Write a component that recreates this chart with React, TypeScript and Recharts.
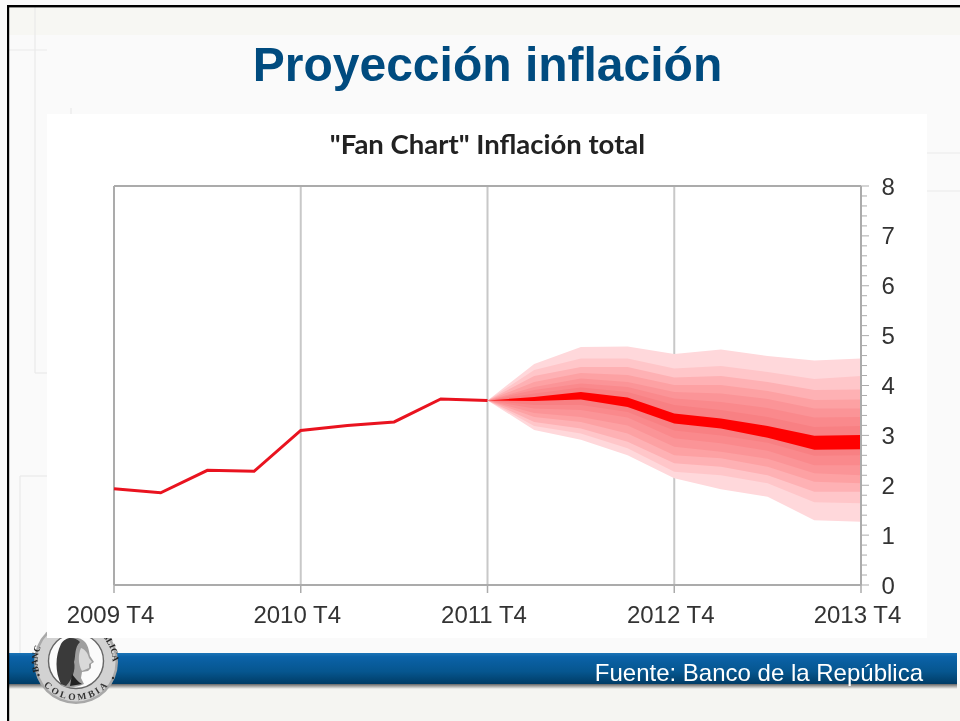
import React from "react";
import { ComposedChart, Area, Line, XAxis, YAxis, CartesianGrid } from "recharts";

const quarterLabels: Record<number, string> = { 0: "2009 T4", 4: "2010 T4", 8: "2011 T4", 12: "2012 T4", 16: "2013 T4" };
const xTicks = [0, 4, 8, 12, 16];
const yTicks = [0, 0.2, 0.4, 0.6, 0.8, 1, 1.2, 1.4, 1.6, 1.8, 2, 2.2, 2.4, 2.6, 2.8, 3, 3.2, 3.4, 3.6, 3.8, 4, 4.2, 4.4, 4.6, 4.8, 5, 5.2, 5.4, 5.6, 5.8, 6, 6.2, 6.4, 6.6, 6.8, 7, 7.2, 7.4, 7.6, 7.8, 8];

const history = [1.93, 1.85, 2.3, 2.28, 3.1, 3.2, 3.27, 3.73, 3.7];

const hi1 = [3.7, 4.43, 4.77, 4.78, 4.63, 4.72, 4.59, 4.5, 4.54];
const hi2 = [3.7, 4.31, 4.54, 4.54, 4.34, 4.39, 4.27, 4.13, 4.19];
const hi3 = [3.7, 4.19, 4.37, 4.37, 4.16, 4.19, 4.07, 3.91, 3.92];
const hi4 = [3.7, 4.07, 4.25, 4.21, 4.01, 4.01, 3.89, 3.71, 3.72];
const hi5 = [3.7, 3.97, 4.14, 4.07, 3.87, 3.84, 3.73, 3.54, 3.54];
const hi6 = [3.7, 3.91, 4.04, 3.97, 3.74, 3.67, 3.55, 3.36, 3.37];
const hi7 = [3.7, 3.84, 3.96, 3.87, 3.61, 3.51, 3.37, 3.17, 3.19];
const hi8 = [3.7, 3.77, 3.87, 3.76, 3.44, 3.34, 3.19, 2.99, 3.01];
const lo8 = [3.7, 3.69, 3.72, 3.57, 3.24, 3.14, 2.95, 2.71, 2.72];
const lo7 = [3.7, 3.61, 3.61, 3.47, 3.1, 3.0, 2.85, 2.59, 2.6];
const lo6 = [3.7, 3.54, 3.51, 3.36, 2.94, 2.84, 2.69, 2.4, 2.4];
const lo5 = [3.7, 3.45, 3.37, 3.2, 2.77, 2.67, 2.53, 2.24, 2.2];
const lo4 = [3.7, 3.37, 3.27, 3.04, 2.6, 2.54, 2.37, 2.07, 2.04];
const lo3 = [3.7, 3.27, 3.14, 2.87, 2.44, 2.37, 2.2, 1.87, 1.87];
const lo2 = [3.7, 3.19, 3.04, 2.74, 2.27, 2.2, 2.04, 1.66, 1.64];
const lo1 = [3.7, 3.11, 2.91, 2.6, 2.14, 1.92, 1.77, 1.3, 1.27];

const highs = [hi1, hi2, hi3, hi4, hi5, hi6, hi7, hi8];
const lows = [lo1, lo2, lo3, lo4, lo5, lo6, lo7, lo8];
const bandColors = ["#FFD8DB", "#FFC6C9", "#FEB1B4", "#FDA1A3", "#FB9497", "#FA898C", "#F88083", "#FF0000"];

const rows = Array.from({ length: 17 }, (_, q) => {
  const row: Record<string, unknown> = { q, history: q < history.length ? history[q] : null };
  highs.forEach((hi, k) => {
    row[`band${k}`] = q >= 8 ? [lows[k][q - 8], hi[q - 8]] : null;
  });
  return row;
});

const SANS = "'Liberation Sans', Arial, sans-serif";

const XTick = (p: any) => (
  <g>
    <line x1={p.x} x2={p.x} y1={p.y} y2={p.y + 8} stroke="#ABABAB" strokeWidth={1.5} />
    <text x={p.x - 3.5} y={p.y + 38} textAnchor="middle" fontSize={24} fontFamily={SANS} fill="#333">
      {quarterLabels[p.payload.value]}
    </text>
  </g>
);

const YTick = (p: any) => {
  const v = p.payload.value;
  const major = Number.isInteger(v);
  return (
    <g>
      <line x1={p.x} x2={p.x + (major ? 8 : 6)} y1={p.y} y2={p.y} stroke="#ABABAB" strokeWidth={1} />
      {major ? (
        <text x={p.x + 20.5} y={p.y + 8.5} fontSize={24} fontFamily={SANS} fill="#333">
          {v}
        </text>
      ) : null}
    </g>
  );
};

const Logo = () => (
  <g>
    <circle cx={76} cy={662} r={42} fill="#A8A8A8" />
    <circle cx={76} cy={662} r={39.5} fill="#D2D2D2" />
    <circle cx={76} cy={661} r={27.5} fill="#FBFBFB" stroke="#666" strokeWidth={1.4} />
    <path id="logoLeft" d="M 44 682 A 37 37 0 0 1 47 637" fill="none" />
    <path id="logoRight" d="M 97 632 A 36 36 0 0 1 112 668" fill="none" />
    <path id="logoBot" d="M 43 672 A 36 36 0 0 0 109 672" fill="none" />
    <text fontSize={9} fontWeight={700} fontFamily="'Liberation Serif', serif" fill="#222">
      <textPath href="#logoLeft" startOffset="50%" textAnchor="middle">BANC</textPath>
    </text>
    <text fontSize={9} fontWeight={700} fontFamily="'Liberation Serif', serif" fill="#222">
      <textPath href="#logoRight" startOffset="50%" textAnchor="middle">BLICA</textPath>
    </text>
    <text fontSize={9.5} fontWeight={700} fontFamily="'Liberation Serif', serif" fill="#333" letterSpacing={1.2}>
      <textPath href="#logoBot" startOffset="50%" textAnchor="middle" dominantBaseline="hanging">COLOMBIA</textPath>
    </text>
    <circle cx={38.5} cy={675} r={1.2} fill="#333" />
    <circle cx={113} cy={678} r={1.2} fill="#333" />
    <path
      d="M 62 644 C 68 636 80 636 85 642 C 89 647 89 652 90 656 L 94 662 L 91 664 L 91 668 L 88 671 L 82 672 L 81 678 L 84 684 C 76 688 68 688 62 686 C 56 672 55 656 62 644 Z"
      fill="#9E9E9E"
    />
    <path
      d="M 61 644 C 66 636 75 637 80 642 C 74 648 76 656 74 662 C 76 670 72 680 66 686 L 61 684 C 55 672 55 656 61 644 Z"
      fill="#3A3A3A"
    />
    <path d="M 81 648 C 86 650 88 654 89 658 L 92 662 L 89 664 L 89 668 L 82 671 C 78 664 78 654 81 648 Z" fill="#D9D9D9" />
    <path d="M 72 674 C 75 678 78 682 82 684 L 70 686 Z" fill="#222" />
  </g>
);

export default function App() {
  return (
    <div style={{ position: "absolute", left: 0, top: 0, width: 960, height: 721, overflow: "hidden", filter: "blur(0.5px)" }}>
      <svg width={960} height={721} style={{ position: "absolute", left: 0, top: 0 }}>
        <defs>
          <linearGradient id="bandGrad" x1="0" y1="0" x2="0" y2="1">
            <stop offset="0" stopColor="#1B74B6" />
            <stop offset="0.12" stopColor="#0B62A8" />
            <stop offset="0.6" stopColor="#06568F" />
            <stop offset="1" stopColor="#003C66" />
          </linearGradient>
          <linearGradient id="shadowGrad" x1="0" y1="0" x2="0" y2="1">
            <stop offset="0" stopColor="#666" />
            <stop offset="1" stopColor="#F5F5F2" />
          </linearGradient>
        </defs>
        <rect x={0} y={0} width={960} height={721} fill="#FAFAFA" />
        <rect x={9} y={7} width={951} height={28} fill="#F7F7F3" />
        <rect x={9} y={684} width={951} height={37} fill="#F5F5F2" />
        <g stroke="#EAEAEA" strokeWidth={1.2} fill="none">
          <line x1={35} x2={35} y1={7} y2={373} />
          <line x1={9} x2={47} y1={50} y2={50} />
          <line x1={35} x2={47} y1={373} y2={373} />
          <line x1={20} x2={20} y1={476} y2={654} />
          <line x1={20} x2={47} y1={476} y2={476} />
          <line x1={71} x2={71} y1={108} y2={114} />
          <line x1={927} x2={960} y1={153} y2={153} />
          <line x1={927} x2={960} y1={191} y2={191} />
        </g>
        <rect x={9} y={684} width={948} height={5} fill="url(#shadowGrad)" />
        <rect x={9} y={653} width={948} height={31} fill="url(#bandGrad)" />
        <Logo />
        <rect x={47} y={114} width={880} height={524} fill="#FFFFFF" />
        <rect x={7} y={5} width={953} height={2.4} fill="#000" />
        <rect x={7} y={5} width={2.2} height={716} fill="#000" />
        <text x={487.5} y={81} textAnchor="middle" fontSize={48} fontWeight={700} fontFamily={SANS} fill="#004B7F">
          Proyección inflación
        </text>
        <text x={487.5} y={154} textAnchor="middle" fontSize={27.5} fontWeight={700} fontFamily="Lato, sans-serif" fill="#222">
          "Fan Chart" Inflación total
        </text>
        <text x={923} y={681} textAnchor="end" fontSize={24} fontFamily={SANS} fill="#FFFFFF">
          Fuente: Banco de la República
        </text>
      </svg>
      <div style={{ position: "absolute", left: 47, top: 114 }}>
        <ComposedChart
          width={880}
          height={524}
          data={rows}
          margin={{ top: 72, right: 0, bottom: 0, left: 67 }}
        >
          <CartesianGrid horizontal={false} verticalValues={[4, 8, 12]} stroke="#C8C8C8" strokeWidth={2} />
          <CartesianGrid vertical verticalValues={[0, 16]} horizontalValues={[0, 8]} stroke="#ABABAB" strokeWidth={2} />
          <XAxis
            dataKey="q"
            type="number"
            domain={[0, 16]}
            ticks={xTicks}
            interval={0}
            height={53}
            tick={XTick}
            tickLine={false}
            tickSize={0}
            tickMargin={0}
            axisLine={{ stroke: "#ABABAB", strokeWidth: 2 }}
          />
          <YAxis
            orientation="right"
            type="number"
            domain={[0, 8]}
            ticks={yTicks}
            interval={0}
            width={66}
            tick={YTick}
            tickLine={false}
            tickSize={0}
            tickMargin={0}
            axisLine={{ stroke: "#ABABAB", strokeWidth: 2 }}
          />
          {highs.map((_, k) => (
            <Area
              key={k}
              dataKey={`band${k}`}
              type="linear"
              stroke="none"
              fill={bandColors[k]}
              fillOpacity={1}
              dot={false}
              activeDot={false}
              isAnimationActive={false}
            />
          ))}
          <Line dataKey="history" type="linear" stroke="#E9131F" strokeWidth={3} dot={false} activeDot={false} isAnimationActive={false} />
        </ComposedChart>
      </div>
    </div>
  );
}
